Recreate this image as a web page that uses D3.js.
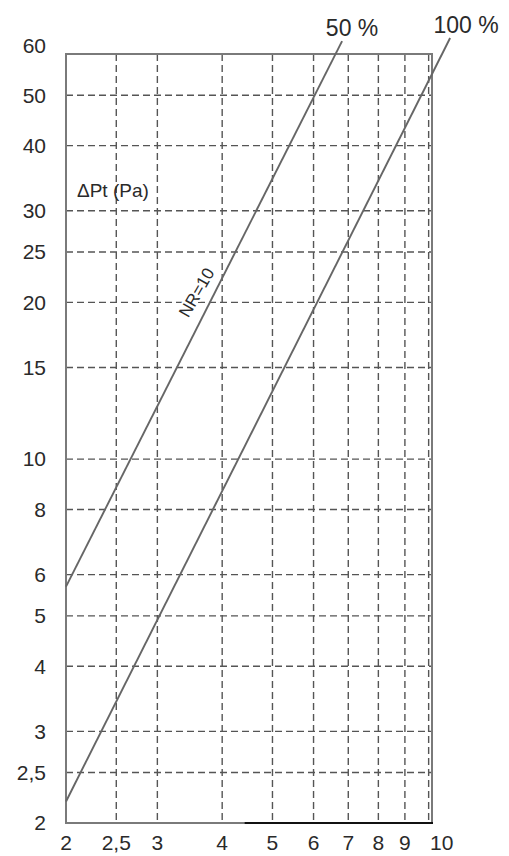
<!DOCTYPE html>
<html>
<head>
<meta charset="utf-8">
<script src="https://cdn.jsdelivr.net/npm/d3@7"></script>
<style>
  html, body { margin: 0; padding: 0; background: #fff; }
  svg { display: block; }
  text { font-family: "Liberation Sans", Arial, sans-serif; fill: #2a2a2a; }
</style>
</head>
<body>
<svg id="chart"></svg>
<script>
// tick values and labels (comma decimals as in the original)
const xTicks = [2, 2.5, 3, 4, 5, 6, 7, 8, 9, 10];
const xTickLabels = ['2', '2,5', '3', '4', '5', '6', '7', '8', '9', '10'];
const yTicks = [2, 2.5, 3, 4, 5, 6, 8, 10, 15, 20, 25, 30, 40, 50, 60];
const yTickLabels = ['2', '2,5', '3', '4', '5', '6', '8', '10', '15', '20', '25', '30', '40', '50', '60'];

// curves (straight in log-log), read at their two ends
const curveNames = ['50 %', '100 %'];
const velocity50 = [2, 6.81];
const pressure50 = [5.69, 63.5];
const velocity100 = [2, 11.0];
const pressure100 = [2.2, 64.4];

const width = 509;
const height = 856;

const svg = d3.select('#chart')
    .attr('width', width)
    .attr('height', height);

const x = d3.scaleLog().domain([2, 10.15]).range([66, 432]);
const y = d3.scaleLog().domain([2, 60]).range([823, 54]);

// grid
const grid = svg.append('g')
    .attr('stroke', '#555')
    .attr('stroke-width', 1.4)
    .attr('stroke-dasharray', '7,4');

grid.selectAll('.vgrid')
    .data(xTicks.filter(d => d > 2))
    .enter()
    .append('line')
    .attr('x1', d => x(d))
    .attr('x2', d => x(d))
    .attr('y1', y(60))
    .attr('y2', y(2));

grid.selectAll('.hgrid')
    .data(yTicks.filter(d => d > 2 && d < 60))
    .enter()
    .append('line')
    .attr('x1', x(2))
    .attr('x2', x(10.15))
    .attr('y1', d => y(d))
    .attr('y2', d => y(d));

// NR=10 label, white halo cuts the grid like in the scan
svg.append('text')
    .attr('transform', `translate(${x(3.57)},${y(20.9)}) rotate(-60)`)
    .attr('text-anchor', 'middle')
    .attr('dy', '0.35em')
    .style('font-size', '17px')
    .style('stroke', '#fff')
    .style('stroke-width', 4)
    .style('paint-order', 'stroke')
    .text('NR=10');

// frame
svg.append('rect')
    .attr('x', x(2))
    .attr('y', y(60))
    .attr('width', x(10.15) - x(2))
    .attr('height', y(2) - y(60))
    .attr('fill', 'none')
    .attr('stroke', '#7a7a7a')
    .attr('stroke-width', 2);

svg.append('line')
    .attr('x1', x(4.42))
    .attr('x2', x(10.15) + 1)
    .attr('y1', y(2))
    .attr('y2', y(2))
    .attr('stroke', '#111')
    .attr('stroke-width', 2);

// curves
const curves = [
    { name: curveNames[0], v: velocity50, p: pressure50, dx: 10 },
    { name: curveNames[1], v: velocity100, p: pressure100, dx: 16 }
];

const line = d3.line()
    .x(d => x(d[0]))
    .y(d => y(d[1]));

svg.selectAll('.curve')
    .data(curves)
    .enter()
    .append('path')
    .attr('d', d => line(d.v.map((v, i) => [v, d.p[i]])))
    .attr('fill', 'none')
    .attr('stroke', '#666')
    .attr('stroke-width', 1.9);

svg.selectAll('.curve-label')
    .data(curves)
    .enter()
    .append('text')
    .attr('x', d => x(d.v[1]) + d.dx)
    .attr('y', d => y(d.p[1]) - 13)
    .attr('text-anchor', 'middle')
    .attr('dy', '0.35em')
    .style('font-size', '23px')
    .text(d => d.name);

// axis labels
svg.selectAll('.xlabel')
    .data(xTicks)
    .enter()
    .append('text')
    .attr('x', d => x(d))
    .attr('y', 843)
    .attr('dx', d => d === 10 ? 13 : 0)
    .attr('dy', '0.35em')
    .attr('text-anchor', 'middle')
    .style('font-size', '21px')
    .text((d, i) => xTickLabels[i]);

svg.selectAll('.ylabel')
    .data(yTicks)
    .enter()
    .append('text')
    .attr('x', 46)
    .attr('y', d => y(d))
    .attr('dy', d => d === 60 ? '-0.07em' : '0.35em')
    .attr('text-anchor', 'end')
    .style('font-size', '21px')
    .text((d, i) => yTickLabels[i]);

// unit label
svg.append('text')
    .attr('x', x(2.1))
    .attr('y', y(32.9))
    .attr('dy', '0.35em')
    .style('font-size', '19px')
    .text('ΔPt (Pa)');
</script>
</body>
</html>
